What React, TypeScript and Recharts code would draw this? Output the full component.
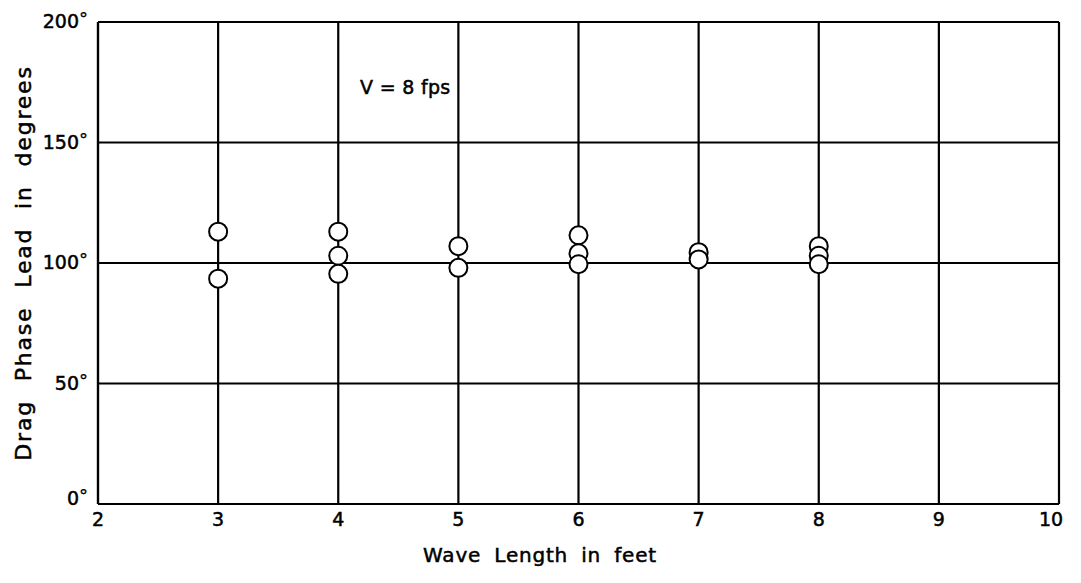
import { ScatterChart, Scatter, XAxis, YAxis, CartesianGrid, Label } from 'recharts'

// wave length (ft) and measured drag phase lead (deg), one entry per run
const waveLength = [3, 3, 4, 4, 4, 5, 5, 6, 6, 6, 7, 7, 8, 8, 8]
const phaseLead = [113, 93.5, 113, 103, 95.5, 107, 98, 111.5, 104, 99.5, 104.5, 101.5, 107, 103, 99.5]

const xTicks = [2, 3, 4, 5, 6, 7, 8, 9, 10]
const yTicks = [0, 50, 100, 150, 200]

const points = waveLength.map((x, i) => ({ x, y: phaseLead[i] }))

const FONT = '"DejaVu Sans", "Open Sans", sans-serif'
// hand-lettered look: a thin outline thickens the glyphs a bit
const INK = { fill: '#000', stroke: '#000', strokeWidth: 0.5 }

const OpenCircle = (props: any) => (
  <circle cx={props.cx} cy={props.cy} r={9} fill="#fff" stroke="#000" strokeWidth={2} />
)

const YTick = ({ x, y, payload }: any) => (
  <text x={x} y={y} dy={payload.value === 0 ? 1 : 6} textAnchor="end" fontFamily={FONT} fontSize={19} {...INK}>
    {payload.value}
    <tspan dy={-3} fontSize={18} strokeWidth={0.3}>°</tspan>
  </text>
)

const XTick = ({ x, y, payload }: any) => (
  <text x={payload.value === 10 ? x - 8 : x} y={y} dy={14} textAnchor="middle" fontFamily={FONT} fontSize={19} {...INK}>
    {payload.value}
  </text>
)

export default function App() {
  return (
    <div style={{ width: 1073, height: 575, background: '#fff', position: 'relative' }}>
      <ScatterChart
        width={1073}
        height={575}
        margin={{ top: 14, right: 22, bottom: 0, left: 0 }}
        style={{ overflow: 'visible' }}
      >
        <CartesianGrid stroke="#000" strokeWidth={2.2} strokeOpacity={1} />
        <XAxis
          type="number"
          dataKey="x"
          domain={[2, 10]}
          ticks={xTicks}
          height={79}
          tick={<XTick />}
          tickLine={false}
          axisLine={{ stroke: '#000', strokeWidth: 2.2 }}
          interval={0}
        >
          <Label
            content={() => (
              <text
                x={532}
                y={554}
                textAnchor="middle"
                fontFamily={FONT}
                fontSize={20}
                letterSpacing={0.8}
                wordSpacing={6}
                {...INK}
              >
                Wave Length in feet
              </text>
            )}
          />
        </XAxis>
        <YAxis
          type="number"
          dataKey="y"
          domain={[0, 200]}
          ticks={yTicks}
          width={90}
          tick={<YTick />}
          tickLine={false}
          tickMargin={4}
          axisLine={{ stroke: '#000', strokeWidth: 2.2 }}
          interval={0}
        >
          <Label
            content={({ viewBox }: any) => {
              const cx = 17
              const cy = viewBox.y + viewBox.height / 2
              return (
                <text
                  x={cx}
                  y={cy}
                  transform={`rotate(-90 ${cx} ${cy})`}
                  textAnchor="middle"
                  dominantBaseline="middle"
                  fontFamily={FONT}
                  fontSize={22}
                  letterSpacing={1.8}
                  wordSpacing={10}
                  {...INK}
                >
                  Drag Phase Lead in degrees
                </text>
              )
            }}
          />
        </YAxis>
        <Scatter data={points} shape={<OpenCircle />} isAnimationActive={false} />
      </ScatterChart>
      <div
        style={{
          position: 'absolute',
          left: 352,
          top: 68,
          fontFamily: FONT,
          fontSize: 19,
          letterSpacing: 0.3,
          WebkitTextStroke: '0.5px #000',
        }}
      >
        V = 8 fps
      </div>
    </div>
  )
}
